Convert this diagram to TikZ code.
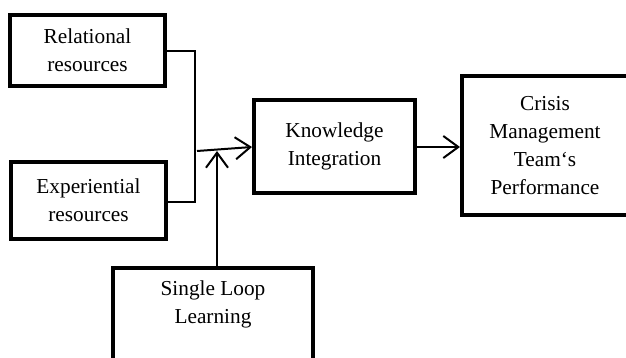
\documentclass[tikz,border=0pt]{standalone}
\usepackage{fontspec}
\setmainfont{Liberation Serif}
\usetikzlibrary{arrows.meta}
\begin{document}
\begin{tikzpicture}[x=1pt,y=-1pt,
  box/.style={draw, line width=4pt, rectangle, inner sep=0pt, align=center,
    font=\fontsize{21.3}{28}\selectfont},
  txt/.style={inner sep=0pt, align=center, font=\fontsize{21.3}{28}\selectfont},
  conn/.style={line width=2pt},
  arr/.style={line width=2pt, -{Straight Barb[length=15pt,width=22pt,line width=2pt]}}]
\useasboundingbox (0,0) rectangle (626,358);
\clip (0,0) rectangle (626,358);
\fill[white] (0,0) rectangle (626,358);
\node (rel) [box, minimum width=155pt, minimum height=71pt] at (87.5,50.5) {Relational\\resources};
\node (exp) [box, minimum width=155pt, minimum height=77pt] at (88.5,200.5) {Experiential\\resources};
\node (ki) [box, minimum width=161pt, minimum height=93pt] at (334.5,146.5) {Knowledge\\Integration};
\node (cm) [box, minimum width=166pt, minimum height=139pt] at (545,145.5) {Crisis\\Management\\Team\symbol{96}s\\Performance};
\node (sl) [box, minimum width=200pt, minimum height=110pt] at (213,323) {};
\node (slt) [txt] at (213,304) {Single Loop\\Learning};
\coordinate (j) at (197,151);
\draw[conn] (rel.east |- 0,51) -- (195,51) -- (195,202) -- (exp.east |- 0,202);
\draw[arr] (j) -- (ki.west |- 0,147);
\draw[arr] (sl.north -| 217,0) -- (217,151);
\draw[arr] (ki.east |- 0,147) -- (cm.west |- 0,147);
\end{tikzpicture}
\end{document}
